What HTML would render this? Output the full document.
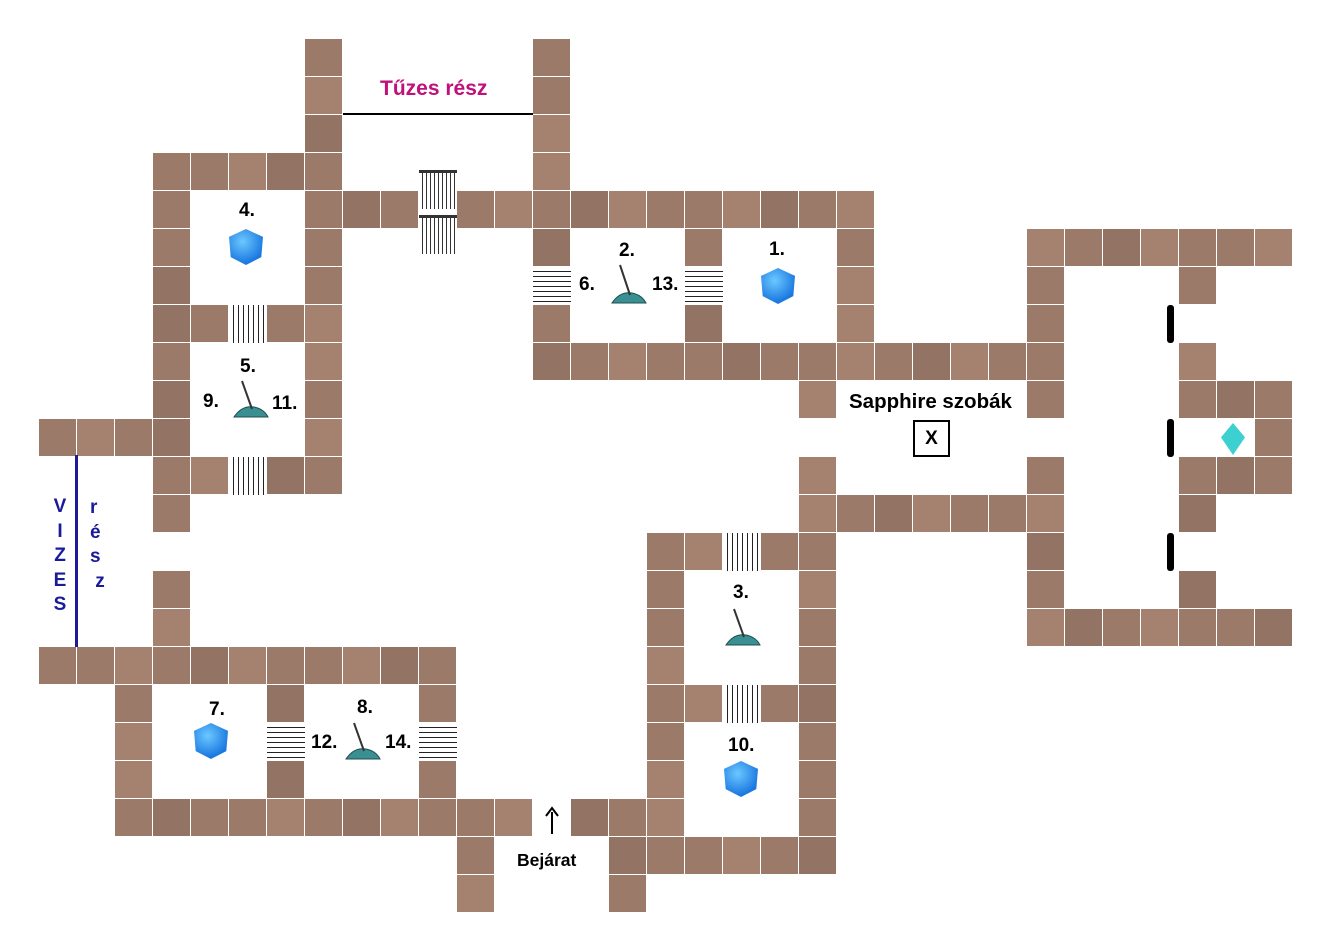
<!DOCTYPE html>
<html><head><meta charset="utf-8"><style>
body{margin:0;width:1331px;height:951px;background:#fff;position:relative;overflow:hidden;font-family:"Liberation Sans",sans-serif}
.t{position:absolute;width:37px;height:37px;background:#9c7a6a;border-right:1px solid #fff;border-bottom:1px solid #fff}
.t:nth-child(3n){background:#a4826f}.t:nth-child(5n){background:#937364}
.h{position:absolute;width:38px;height:38px;background:repeating-linear-gradient(#fff 0 4px,#222 4px 5px)}
.v{position:absolute;width:38px;height:38px;background:repeating-linear-gradient(90deg,#fff 0 4px,#222 4px 5px)}
.l{position:absolute;font-weight:bold;font-size:19px;color:#000}
.c{position:absolute;width:34px;height:36px;background:radial-gradient(circle at 40% 35%,#6cc8ff,#1a78e0 70%);clip-path:polygon(50% 0,100% 22%,95% 78%,50% 100%,5% 78%,0 22%)}
</style></head><body>
<div id="g">
<div class="t" style="left:305px;top:39px"></div><div class="t" style="left:533px;top:39px"></div>
<div class="t" style="left:305px;top:77px"></div><div class="t" style="left:533px;top:77px"></div>
<div class="t" style="left:305px;top:115px"></div><div class="t" style="left:533px;top:115px"></div>
<div class="t" style="left:153px;top:153px"></div><div class="t" style="left:191px;top:153px"></div><div class="t" style="left:229px;top:153px"></div><div class="t" style="left:267px;top:153px"></div><div class="t" style="left:305px;top:153px"></div><div class="t" style="left:533px;top:153px"></div>
<div class="t" style="left:153px;top:191px"></div><div class="t" style="left:305px;top:191px"></div><div class="t" style="left:343px;top:191px"></div><div class="t" style="left:381px;top:191px"></div><div class="t" style="left:457px;top:191px"></div><div class="t" style="left:495px;top:191px"></div><div class="t" style="left:533px;top:191px"></div><div class="t" style="left:571px;top:191px"></div><div class="t" style="left:609px;top:191px"></div><div class="t" style="left:647px;top:191px"></div><div class="t" style="left:685px;top:191px"></div><div class="t" style="left:723px;top:191px"></div><div class="t" style="left:761px;top:191px"></div><div class="t" style="left:799px;top:191px"></div><div class="t" style="left:837px;top:191px"></div>
<div class="t" style="left:153px;top:229px"></div><div class="t" style="left:305px;top:229px"></div><div class="t" style="left:533px;top:229px"></div><div class="t" style="left:685px;top:229px"></div><div class="t" style="left:837px;top:229px"></div><div class="t" style="left:1027px;top:229px"></div><div class="t" style="left:1065px;top:229px"></div><div class="t" style="left:1103px;top:229px"></div><div class="t" style="left:1141px;top:229px"></div><div class="t" style="left:1179px;top:229px"></div><div class="t" style="left:1217px;top:229px"></div><div class="t" style="left:1255px;top:229px"></div>
<div class="t" style="left:153px;top:267px"></div><div class="t" style="left:305px;top:267px"></div><div class="t" style="left:837px;top:267px"></div><div class="t" style="left:1027px;top:267px"></div><div class="t" style="left:1179px;top:267px"></div>
<div class="t" style="left:153px;top:305px"></div><div class="t" style="left:191px;top:305px"></div><div class="t" style="left:267px;top:305px"></div><div class="t" style="left:305px;top:305px"></div><div class="t" style="left:533px;top:305px"></div><div class="t" style="left:685px;top:305px"></div><div class="t" style="left:837px;top:305px"></div><div class="t" style="left:1027px;top:305px"></div>
<div class="t" style="left:153px;top:343px"></div><div class="t" style="left:305px;top:343px"></div><div class="t" style="left:533px;top:343px"></div><div class="t" style="left:571px;top:343px"></div><div class="t" style="left:609px;top:343px"></div><div class="t" style="left:647px;top:343px"></div><div class="t" style="left:685px;top:343px"></div><div class="t" style="left:723px;top:343px"></div><div class="t" style="left:761px;top:343px"></div><div class="t" style="left:799px;top:343px"></div><div class="t" style="left:837px;top:343px"></div><div class="t" style="left:875px;top:343px"></div><div class="t" style="left:913px;top:343px"></div><div class="t" style="left:951px;top:343px"></div><div class="t" style="left:989px;top:343px"></div><div class="t" style="left:1027px;top:343px"></div><div class="t" style="left:1179px;top:343px"></div>
<div class="t" style="left:153px;top:381px"></div><div class="t" style="left:305px;top:381px"></div><div class="t" style="left:799px;top:381px"></div><div class="t" style="left:1027px;top:381px"></div><div class="t" style="left:1179px;top:381px"></div><div class="t" style="left:1217px;top:381px"></div><div class="t" style="left:1255px;top:381px"></div>
<div class="t" style="left:39px;top:419px"></div><div class="t" style="left:77px;top:419px"></div><div class="t" style="left:115px;top:419px"></div><div class="t" style="left:153px;top:419px"></div><div class="t" style="left:305px;top:419px"></div><div class="t" style="left:1255px;top:419px"></div>
<div class="t" style="left:153px;top:457px"></div><div class="t" style="left:191px;top:457px"></div><div class="t" style="left:267px;top:457px"></div><div class="t" style="left:305px;top:457px"></div><div class="t" style="left:799px;top:457px"></div><div class="t" style="left:1027px;top:457px"></div><div class="t" style="left:1179px;top:457px"></div><div class="t" style="left:1217px;top:457px"></div><div class="t" style="left:1255px;top:457px"></div>
<div class="t" style="left:153px;top:495px"></div><div class="t" style="left:799px;top:495px"></div><div class="t" style="left:837px;top:495px"></div><div class="t" style="left:875px;top:495px"></div><div class="t" style="left:913px;top:495px"></div><div class="t" style="left:951px;top:495px"></div><div class="t" style="left:989px;top:495px"></div><div class="t" style="left:1027px;top:495px"></div><div class="t" style="left:1179px;top:495px"></div>
<div class="t" style="left:647px;top:533px"></div><div class="t" style="left:685px;top:533px"></div><div class="t" style="left:761px;top:533px"></div><div class="t" style="left:799px;top:533px"></div><div class="t" style="left:1027px;top:533px"></div>
<div class="t" style="left:153px;top:571px"></div><div class="t" style="left:647px;top:571px"></div><div class="t" style="left:799px;top:571px"></div><div class="t" style="left:1027px;top:571px"></div><div class="t" style="left:1179px;top:571px"></div>
<div class="t" style="left:153px;top:609px"></div><div class="t" style="left:647px;top:609px"></div><div class="t" style="left:799px;top:609px"></div><div class="t" style="left:1027px;top:609px"></div><div class="t" style="left:1065px;top:609px"></div><div class="t" style="left:1103px;top:609px"></div><div class="t" style="left:1141px;top:609px"></div><div class="t" style="left:1179px;top:609px"></div><div class="t" style="left:1217px;top:609px"></div><div class="t" style="left:1255px;top:609px"></div>
<div class="t" style="left:39px;top:647px"></div><div class="t" style="left:77px;top:647px"></div><div class="t" style="left:115px;top:647px"></div><div class="t" style="left:153px;top:647px"></div><div class="t" style="left:191px;top:647px"></div><div class="t" style="left:229px;top:647px"></div><div class="t" style="left:267px;top:647px"></div><div class="t" style="left:305px;top:647px"></div><div class="t" style="left:343px;top:647px"></div><div class="t" style="left:381px;top:647px"></div><div class="t" style="left:419px;top:647px"></div><div class="t" style="left:647px;top:647px"></div><div class="t" style="left:799px;top:647px"></div>
<div class="t" style="left:115px;top:685px"></div><div class="t" style="left:267px;top:685px"></div><div class="t" style="left:419px;top:685px"></div><div class="t" style="left:647px;top:685px"></div><div class="t" style="left:685px;top:685px"></div><div class="t" style="left:761px;top:685px"></div><div class="t" style="left:799px;top:685px"></div>
<div class="t" style="left:115px;top:723px"></div><div class="t" style="left:647px;top:723px"></div><div class="t" style="left:799px;top:723px"></div>
<div class="t" style="left:115px;top:761px"></div><div class="t" style="left:267px;top:761px"></div><div class="t" style="left:419px;top:761px"></div><div class="t" style="left:647px;top:761px"></div><div class="t" style="left:799px;top:761px"></div>
<div class="t" style="left:115px;top:799px"></div><div class="t" style="left:153px;top:799px"></div><div class="t" style="left:191px;top:799px"></div><div class="t" style="left:229px;top:799px"></div><div class="t" style="left:267px;top:799px"></div><div class="t" style="left:305px;top:799px"></div><div class="t" style="left:343px;top:799px"></div><div class="t" style="left:381px;top:799px"></div><div class="t" style="left:419px;top:799px"></div><div class="t" style="left:457px;top:799px"></div><div class="t" style="left:495px;top:799px"></div><div class="t" style="left:571px;top:799px"></div><div class="t" style="left:609px;top:799px"></div><div class="t" style="left:647px;top:799px"></div><div class="t" style="left:799px;top:799px"></div>
<div class="t" style="left:457px;top:837px"></div><div class="t" style="left:609px;top:837px"></div><div class="t" style="left:647px;top:837px"></div><div class="t" style="left:685px;top:837px"></div><div class="t" style="left:723px;top:837px"></div><div class="t" style="left:761px;top:837px"></div><div class="t" style="left:799px;top:837px"></div>
<div class="t" style="left:457px;top:875px"></div><div class="t" style="left:609px;top:875px"></div>
</div>
<div class="h" style="left:533px;top:267px"></div><div class="h" style="left:685px;top:267px"></div><div class="h" style="left:267px;top:723px"></div><div class="h" style="left:419px;top:723px"></div>
<div class="v" style="left:229px;top:305px"></div><div class="v" style="left:229px;top:457px"></div><div class="v" style="left:723px;top:533px"></div><div class="v" style="left:723px;top:685px"></div>
<div style="position:absolute;left:419px;top:170px;width:38px;height:36px;background:repeating-linear-gradient(90deg,#fff 0 3px,#333 3px 4px);border-top:3px solid #333"></div>
<div style="position:absolute;left:419px;top:215px;width:38px;height:36px;background:repeating-linear-gradient(90deg,#fff 0 3px,#333 3px 4px);border-top:3px solid #333"></div>
<div style="position:absolute;left:343px;top:113px;width:190px;height:2px;background:#000"></div>
<div style="position:absolute;left:75px;top:455px;width:3px;height:192px;background:#1a1a9a"></div>
<div style="position:absolute;left:1167px;top:305px;width:7px;height:38px;background:#000;border-radius:3px"></div>
<div style="position:absolute;left:1167px;top:419px;width:7px;height:38px;background:#000;border-radius:3px"></div>
<div style="position:absolute;left:1167px;top:533px;width:7px;height:38px;background:#000;border-radius:3px"></div>
<div style="position:absolute;left:913px;top:420px;width:33px;height:33px;border:2px solid #000;font-weight:bold;font-size:19px;text-align:center;line-height:33px">X</div>
<div class="c" style="left:229px;top:229px"></div><div class="c" style="left:761px;top:268px"></div><div class="c" style="left:194px;top:723px"></div><div class="c" style="left:724px;top:761px"></div>
<div style="position:absolute;left:1221px;top:423px;width:24px;height:32px;background:#3cd0d0;clip-path:polygon(50% 0,100% 45%,50% 100%,0 45%)"></div>
<svg style="position:absolute;left:0;top:0" width="1331" height="951">
<g fill="#3a8f92" stroke="#1e4f50" stroke-width="1">
<path d="M612 303 q8-12 20-10 q10 2 14 10 z"/><line x1="630" y1="295" x2="620" y2="265" stroke="#333" stroke-width="2"/>
<path d="M234 417 q8-12 20-10 q10 2 14 10 z"/><line x1="252" y1="409" x2="242" y2="381" stroke="#333" stroke-width="2"/>
<path d="M726 645 q8-12 20-10 q10 2 14 10 z"/><line x1="744" y1="637" x2="734" y2="609" stroke="#333" stroke-width="2"/>
<path d="M346 759 q8-12 20-10 q10 2 14 10 z"/><line x1="364" y1="751" x2="354" y2="723" stroke="#333" stroke-width="2"/>
</g>
<line x1="552" y1="834" x2="552" y2="812" stroke="#000" stroke-width="2"/><path d="M546 816 L552 808 L558 816" fill="none" stroke="#000" stroke-width="2"/>
</svg>
<div class="l" style="left:380px;top:77px;color:#c0107a;font-size:21px">Tűzes rész</div>
<div class="l" style="left:239px;top:200px">4.</div>
<div class="l" style="left:619px;top:240px">2.</div>
<div class="l" style="left:769px;top:239px">1.</div>
<div class="l" style="left:579px;top:274px">6.</div>
<div class="l" style="left:652px;top:274px">13.</div>
<div class="l" style="left:240px;top:356px">5.</div>
<div class="l" style="left:203px;top:391px">9.</div>
<div class="l" style="left:272px;top:393px">11.</div>
<div class="l" style="left:849px;top:390px;font-size:20.5px">Sapphire szobák</div>
<div class="l" style="left:733px;top:582px">3.</div>
<div class="l" style="left:209px;top:699px">7.</div>
<div class="l" style="left:357px;top:697px">8.</div>
<div class="l" style="left:311px;top:732px">12.</div>
<div class="l" style="left:385px;top:732px">14.</div>
<div class="l" style="left:728px;top:735px">10.</div>
<div class="l" style="left:517px;top:850px;font-size:17.5px">Bejárat</div>
<div class="l" style="left:52px;top:495px;color:#1a1a9a;line-height:24.5px;text-align:center;width:16px">V<br>I<br>Z<br>E<br>S</div>
<div class="l" style="left:90px;top:496px;color:#1a1a9a;line-height:24.5px">r<br>é<br>s<br>&nbsp;z</div>
</body></html>
